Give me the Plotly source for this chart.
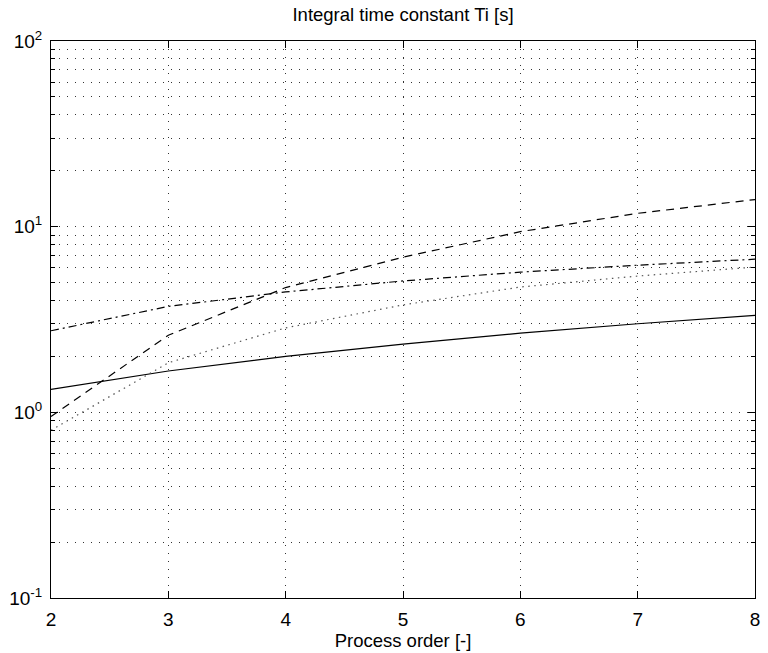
import plotly.graph_objects as go

orders = [2, 3, 4, 5, 6, 7, 8]
ti_solid = [1.33, 1.67, 2.00, 2.33, 2.67, 3.00, 3.33]
ti_dashed = [0.95, 2.60, 4.70, 6.85, 9.40, 11.8, 14.0]
ti_dashdot = [2.75, 3.72, 4.45, 5.10, 5.69, 6.20, 6.68]
ti_dotted = [0.80, 1.85, 2.85, 3.79, 4.73, 5.42, 6.06]

x_ticks = [2, 3, 4, 5, 6, 7, 8]
y_ticks = [0.1, 1, 10, 100]
y_ticktext = ["10<sup>-1</sup>", "10<sup>0</sup>", "10<sup>1</sup>", "10<sup>2</sup>"]
y_minor = [m * d for d in (0.1, 1, 10) for m in range(2, 10)]

FONT = "Liberation Sans, Arial, sans-serif"

fig = go.Figure()
fig.add_trace(go.Scatter(x=orders, y=ti_solid, mode="lines",
                         line=dict(color="black", width=1.2, dash="solid")))
fig.add_trace(go.Scatter(x=orders, y=ti_dashed, mode="lines",
                         line=dict(color="black", width=1.2, dash="8px,6px")))
fig.add_trace(go.Scatter(x=orders, y=ti_dashdot, mode="lines",
                         line=dict(color="black", width=1.2, dash="8px,4px,2px,4px")))
fig.add_trace(go.Scatter(x=orders, y=ti_dotted, mode="lines",
                         line=dict(color="#555555", width=1.2, dash="1.5px,4.5px")))

grid_dash = "1px,7px"
fig.update_layout(
    width=768, height=653,
    margin=dict(l=51, r=8, t=41, b=52),
    paper_bgcolor="white", plot_bgcolor="white",
    showlegend=False,
    font=dict(family=FONT, size=19, color="black"),
    title=dict(text="Integral time constant Ti [s]", x=0.5, xref="paper",
               y=1 - 15 / 653, yref="container", yanchor="middle", xanchor="center",
               font=dict(family=FONT, size=18.5, color="black")),
    xaxis=dict(
        range=[2, 8], tickmode="array", tickvals=x_ticks,
        showline=True, linecolor="black", linewidth=1, mirror="ticks",
        ticks="inside", ticklen=7, tickcolor="black",
        showgrid=True, gridcolor="#333333", gridwidth=1, griddash=grid_dash,
        zeroline=False, ticklabelstandoff=4,
        title=dict(text="Process order [-]", standoff=2, font=dict(size=18.5)),
        tickfont=dict(size=19),
    ),
    yaxis=dict(
        type="log", range=[-1, 2], tickmode="array", tickvals=y_ticks, ticktext=y_ticktext,
        showline=True, linecolor="black", linewidth=1, mirror="ticks",
        ticks="inside", ticklen=7, tickcolor="black",
        showgrid=True, gridcolor="#333333", gridwidth=1, griddash=grid_dash,
        zeroline=False, tickfont=dict(size=19), ticklabelstandoff=4,
        minor=dict(tickmode="array", tickvals=y_minor, ticks="inside", ticklen=4,
                   tickcolor="black", showgrid=True, gridcolor="#333333",
                   gridwidth=1, griddash=grid_dash),
    ),
)

fig.write_html("out.html")
